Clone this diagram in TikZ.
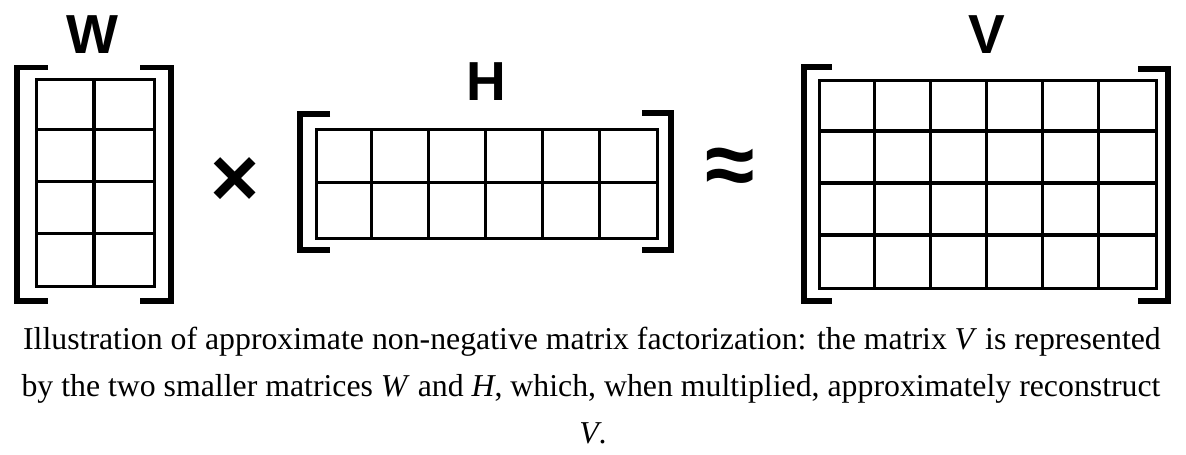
\documentclass[tikz,border=0pt]{standalone}
\usepackage{fontspec}
\setmainfont{Liberation Serif}
\newfontfamily\labelfont{Liberation Sans}
\begin{document}
\begin{tikzpicture}[x=1pt,y=-1pt,
  bracket/.style={line width=5.5pt,line join=miter},
  gridline/.style={line width=3.2pt},
  matbox/.style={draw,line width=3.4pt,inner sep=0pt,anchor=north west},
  lab/.style={font=\labelfont\bfseries\fontsize{55}{55}\selectfont,anchor=base,inner sep=0pt},
  captext/.style={font=\fontsize{31.8}{38}\selectfont,anchor=base,inner sep=0pt}]
\useasboundingbox[fill=white] (0,0) rectangle (1186,455);

% ---- W (4 x 2) ----
\node[matbox,minimum width=118pt,minimum height=207pt] (W) at (35,78) {};
\draw[gridline] (94,78) -- (94,285);
\foreach \y in {129.75,181.5,233.25} \draw[gridline] (35,\y) -- (153,\y);
\draw[bracket] (48,67.5) -- (17,67.5) -- (17,301) -- (48,301);
\draw[bracket] (140,67.5) -- (171,67.5) -- (171,301) -- (140,301);
\node[lab] (Wl) at (92,53) {W};

% ---- times ----
\node[font=\labelfont\bfseries\fontsize{84}{84}\selectfont,inner sep=0pt] (times) at (235,182) {×};

% ---- H (2 x 6) ----
\node[matbox,minimum width=341pt,minimum height=109pt] (H) at (315,128) {};
\foreach \i in {1,...,5} \draw[gridline] ({315+\i*341/6},128) -- ({315+\i*341/6},237);
\draw[gridline] (315,182.5) -- (656,182.5);
\draw[bracket] (330,114) -- (300,114) -- (300,250) -- (330,250);
\draw[bracket] (642,113) -- (671,113) -- (671,250) -- (642,250);
\node[lab] (Hl) at (486,100) {H};

% ---- approx ----
\node[font=\labelfont\bfseries\fontsize{90}{90}\selectfont,inner sep=0pt] (approx) at (730,172) {≈};

% ---- V (4 x 6) ----
\node[matbox,minimum width=337pt,minimum height=208pt] (V) at (818,79) {};
\foreach \i in {1,...,5} \draw[gridline] ({818+\i*337/6},79) -- ({818+\i*337/6},287);
\foreach \j in {1,2,3} \draw[gridline] (818,{79+\j*52}) -- (1155,{79+\j*52});
\draw[bracket] (832,67) -- (804,67) -- (804,301) -- (832,301);
\draw[bracket] (1138,69) -- (1168,69) -- (1168,301) -- (1138,301);
\node[lab] (Vl) at (987,53) {V};

% ---- caption ----
\node[captext] (cap1) at (592,349) {Illustration of approximate non-negative matrix factorization: the matrix \textit{V} is represented};
\node[captext] (cap2) at (591,396) {by the two smaller matrices \textit{W} and \textit{H}, which, when multiplied, approximately reconstruct};
\node[captext] (cap3) at (593,443) {\textit{V}.};
\end{tikzpicture}
\end{document}
